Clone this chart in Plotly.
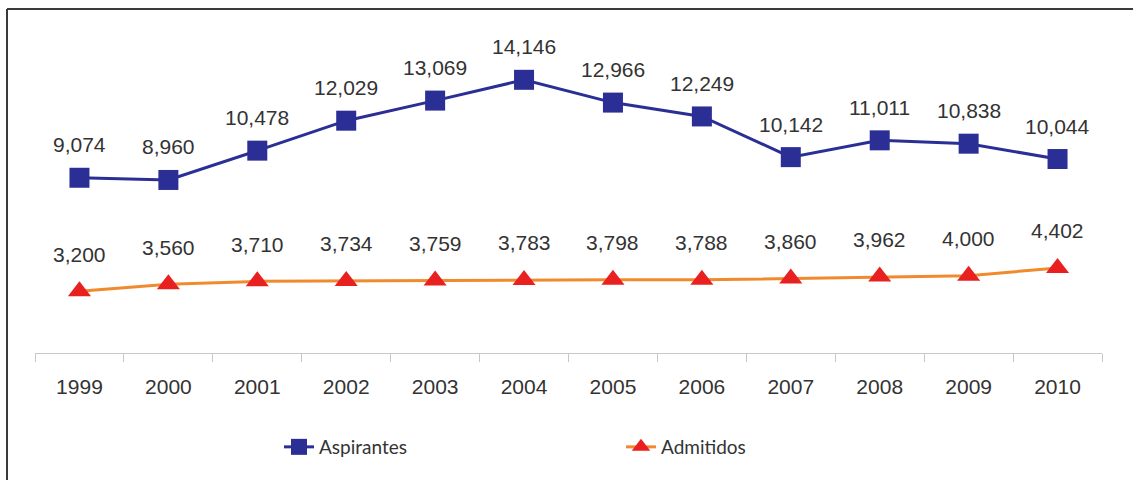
import plotly.graph_objects as go

years = ["1999", "2000", "2001", "2002", "2003", "2004", "2005", "2006", "2007", "2008", "2009", "2010"]
aspirantes = [9074, 8960, 10478, 12029, 13069, 14146, 12966, 12249, 10142, 11011, 10838, 10044]
admitidos = [3200, 3560, 3710, 3734, 3759, 3783, 3798, 3788, 3860, 3962, 4000, 4402]

W, H = 1133, 480
L, R, T, B = 35, 31, 44, 127
pw = W - L - R
ph = H - T - B
FONT = "Liberation Sans"

fig = go.Figure()
fig.add_trace(go.Scatter(
    x=years, y=aspirantes, name="Aspirantes", mode="lines+markers",
    line=dict(color="#2b2f95", width=3),
    marker=dict(symbol="square", size=20, color="#2b2f95"),
))
fig.add_trace(go.Scatter(
    x=years, y=admitidos, name="Admitidos", mode="lines+markers",
    line=dict(color="#f08a2c", width=3),
    marker=dict(symbol="triangle-up", size=20, color="#e8201f"),
))

annotations = []
for i, v in enumerate(aspirantes):
    annotations.append(dict(x=i, y=v, xref="x", yref="y", text=f"{v:,}", showarrow=False, yshift=33,
                            font=dict(size=21, color="#333333", family=FONT)))
for i, v in enumerate(admitidos):
    annotations.append(dict(x=i, y=v, xref="x", yref="y", text=f"{v:,}", showarrow=False, yshift=37,
                            font=dict(size=21, color="#333333", family=FONT)))

def px2x(p):
    return (p - L) / pw

def py2y(p):
    return (H - B - p) / ph

shapes = [
    dict(type="line", xref="paper", yref="paper", x0=px2x(7), x1=px2x(1140), y0=py2y(9), y1=py2y(9),
         line=dict(color="#3a3a3a", width=2)),
    dict(type="line", xref="paper", yref="paper", x0=px2x(7), x1=px2x(7), y0=py2y(9), y1=py2y(490),
         line=dict(color="#3a3a3a", width=2)),
]

fig.update_layout(
    width=W, height=H,
    margin=dict(l=L, r=R, t=T, b=B),
    paper_bgcolor="white", plot_bgcolor="white",
    font=dict(family=FONT, color="#333333"),
    showlegend=True,
    legend=dict(orientation="h", x=px2x(279), y=py2y(428), xanchor="left", yanchor="top",
                entrywidth=297, entrywidthmode="pixels",
                font=dict(size=19, color="#333333", family="Lato")),
    annotations=annotations,
    shapes=shapes,
    xaxis=dict(type="category", range=[-0.5, 11.5], showgrid=False, zeroline=False,
               showline=True, linecolor="#c8c8c8", linewidth=1,
               ticks="outside", tickson="boundaries", ticklen=8, tickcolor="#c8c8c8",
               ticklabelstandoff=15,
               tickfont=dict(size=21, color="#333333", family=FONT)),
    yaxis=dict(range=[0, 16000], visible=False, showgrid=False, zeroline=False),
)

fig.write_html("out.html", config={"displayModeBar": False},
               post_script="document.body.style.margin='0';")
